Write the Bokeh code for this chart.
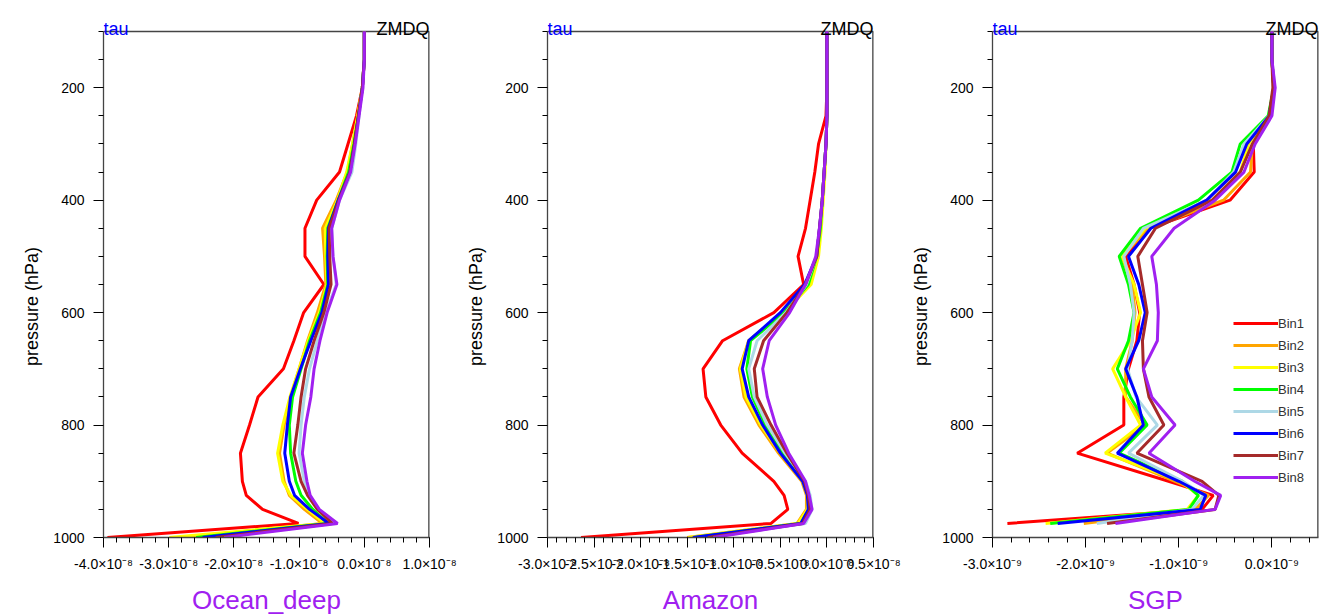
from bokeh.plotting import figure
from bokeh.models import Range1d, FixedTicker, Legend, LegendItem, CustomJSTickFormatter, LinearAxis
from bokeh.core.properties import value
from bokeh.layouts import row
from bokeh.embed import file_html
from bokeh.resources import INLINE

# ---------------- data ----------------
levels = [100, 150, 200, 250, 300, 350, 400, 450, 500, 550, 600, 650, 700,
          750, 800, 850, 900, 925, 950, 975, 1000]
bins = ["Bin1", "Bin2", "Bin3", "Bin4", "Bin5", "Bin6", "Bin7", "Bin8"]
colors = ["#FF0000", "#FFA500", "#FFFF00", "#00FF00", "#ADD8E6", "#0000FF", "#A52A2A", "#A020F0"]

# Ocean_deep, values in units of 1e-8
ocean_b1 = [0, 0, -0.03, -0.12, -0.25, -0.38, -0.73, -0.91, -0.91, -0.62, -0.93, -1.08, -1.24, -1.63, -1.76, -1.90, -1.87, -1.81, -1.56, -1.01, -3.94]
ocean_b2 = [0, 0, -0.03, -0.10, -0.18, -0.26, -0.43, -0.64, -0.61, -0.59, -0.72, -0.87, -1.00, -1.13, -1.23, -1.30, -1.23, -1.15, -0.92, -0.64, -2.76]
ocean_b3 = [0, 0, -0.03, -0.10, -0.18, -0.27, -0.41, -0.60, -0.59, -0.57, -0.69, -0.86, -1.00, -1.14, -1.25, -1.33, -1.25, -1.13, -0.87, -0.61, -2.99]
ocean_b4 = [0, 0, -0.03, -0.09, -0.16, -0.24, -0.40, -0.56, -0.57, -0.56, -0.67, -0.84, -0.97, -1.10, -1.15, -1.13, -1.05, -0.97, -0.79, -0.56, -2.58]
ocean_b5 = [0, 0, -0.03, -0.08, -0.13, -0.19, -0.38, -0.50, -0.48, -0.43, -0.59, -0.72, -0.84, -0.92, -0.97, -1.00, -0.92, -0.84, -0.71, -0.47, -2.35]
ocean_b6 = [0, 0, -0.03, -0.09, -0.15, -0.22, -0.40, -0.55, -0.56, -0.55, -0.65, -0.82, -0.98, -1.13, -1.18, -1.22, -1.15, -1.07, -0.84, -0.54, -2.48]
ocean_b7 = [0, 0, -0.03, -0.09, -0.15, -0.22, -0.39, -0.54, -0.53, -0.51, -0.62, -0.77, -0.90, -0.97, -1.02, -1.08, -0.97, -0.87, -0.72, -0.49, -2.28]
ocean_b8 = [0, 0, -0.02, -0.08, -0.14, -0.21, -0.38, -0.50, -0.48, -0.42, -0.57, -0.68, -0.77, -0.82, -0.90, -0.95, -0.88, -0.83, -0.69, -0.41, -2.15]

# Amazon, values in units of 1e-8
amazon_b1 = [0, 0, 0, -0.01, -0.09, -0.13, -0.18, -0.23, -0.31, -0.25, -0.57, -1.12, -1.33, -1.30, -1.14, -0.91, -0.57, -0.46, -0.42, -0.60, -2.64]
amazon_b2 = [0, 0, 0, 0, -0.01, -0.03, -0.05, -0.07, -0.10, -0.18, -0.47, -0.84, -0.94, -0.89, -0.73, -0.52, -0.27, -0.22, -0.22, -0.32, -1.50]
amazon_b3 = [0, 0, 0, 0, -0.01, -0.02, -0.04, -0.06, -0.09, -0.17, -0.46, -0.84, -0.93, -0.87, -0.71, -0.50, -0.26, -0.21, -0.21, -0.31, -1.49]
amazon_b4 = [0, 0, 0, 0, -0.01, -0.03, -0.05, -0.07, -0.11, -0.20, -0.46, -0.82, -0.86, -0.80, -0.66, -0.47, -0.25, -0.20, -0.19, -0.28, -1.43]
amazon_b5 = [0, 0, 0, 0, -0.01, -0.03, -0.05, -0.08, -0.11, -0.22, -0.44, -0.75, -0.84, -0.78, -0.64, -0.45, -0.23, -0.18, -0.16, -0.23, -1.35]
amazon_b6 = [0, 0, 0, 0, -0.01, -0.03, -0.05, -0.08, -0.11, -0.24, -0.50, -0.84, -0.91, -0.84, -0.69, -0.50, -0.26, -0.21, -0.20, -0.28, -1.44]
amazon_b7 = [0, 0, 0, 0, -0.01, -0.03, -0.05, -0.08, -0.11, -0.23, -0.43, -0.68, -0.78, -0.75, -0.60, -0.43, -0.24, -0.20, -0.18, -0.26, -1.28]
amazon_b8 = [0, 0, 0, 0, -0.01, -0.03, -0.05, -0.08, -0.12, -0.23, -0.40, -0.62, -0.69, -0.64, -0.55, -0.41, -0.23, -0.19, -0.16, -0.25, -1.22]

# SGP, values in units of 1e-9 (no value at 1000 hPa)
nan = float("nan")
sgp_b1 = [0, 0, 0.02, -0.03, -0.20, -0.19, -0.45, -1.32, -1.57, -1.48, -1.42, -1.45, -1.54, -1.59, -1.59, -2.09, -1.11, -0.63, -0.75, -2.84, nan]
sgp_b2 = [0, 0, 0.02, -0.03, -0.21, -0.23, -0.52, -1.32, -1.61, -1.50, -1.47, -1.50, -1.57, -1.57, -1.36, -1.77, -1.04, -0.68, -0.82, -2.02, nan]
sgp_b3 = [0, 0, 0.02, -0.03, -0.25, -0.34, -0.64, -1.36, -1.61, -1.48, -1.41, -1.52, -1.71, -1.57, -1.41, -1.79, -0.98, -0.79, -0.91, -2.43, nan]
sgp_b4 = [0, 0, 0.02, -0.04, -0.34, -0.43, -0.79, -1.41, -1.64, -1.54, -1.48, -1.54, -1.66, -1.52, -1.34, -1.64, -0.96, -0.79, -0.89, -2.38, nan]
sgp_b5 = [0, 0, 0.03, -0.03, -0.30, -0.41, -0.70, -1.38, -1.59, -1.52, -1.48, -1.50, -1.55, -1.46, -1.23, -1.54, -0.96, -0.73, -0.86, -1.88, nan]
sgp_b6 = [0, 0, 0.02, -0.03, -0.27, -0.39, -0.70, -1.30, -1.54, -1.43, -1.36, -1.43, -1.57, -1.45, -1.38, -1.66, -1.00, -0.71, -0.77, -2.30, nan]
sgp_b7 = [0, 0, 0.01, -0.03, -0.21, -0.34, -0.64, -1.25, -1.44, -1.39, -1.34, -1.39, -1.38, -1.32, -1.16, -1.45, -0.75, -0.57, -0.61, -1.77, nan]
sgp_b8 = [0, 0, 0.035, 0.0, -0.18, -0.30, -0.61, -1.05, -1.29, -1.24, -1.22, -1.23, -1.38, -1.29, -1.04, -1.32, -0.83, -0.55, -0.61, -1.68, nan]

# tick values (in plotted units) and labels
ocean_ticks = [-4.0, -3.0, -2.0, -1.0, 0.0, 1.0]
ocean_labels = ["-4.0×10⁻⁸", "-3.0×10⁻⁸", "-2.0×10⁻⁸", "-1.0×10⁻⁸", "0.0×10⁻⁸", "1.0×10⁻⁸"]
amazon_ticks = [-3.0, -2.5, -2.0, -1.5, -1.0, -0.5, 0.0, 0.5]
amazon_labels = ["-3.0×10⁻⁸", "-2.5×10⁻⁸", "-2.0×10⁻⁸", "-1.5×10⁻⁸", "-1.0×10⁻⁸", "-0.5×10⁻⁸", "0.0×10⁻⁸", "0.5×10⁻⁸"]
sgp_ticks = [-3.0, -2.0, -1.0, 0.0]
sgp_labels = ["-3.0×10⁻⁹", "-2.0×10⁻⁹", "-1.0×10⁻⁹", "0.0×10⁻⁹"]
y_major = [200, 400, 600, 800, 1000]
y_minor = [100, 150, 250, 300, 350, 450, 500, 550, 650, 700, 750, 850, 900, 950]
P_TOP, P_BOT = 100, 1000
y_title = "pressure (hPa)"

FONT = "Liberation Sans"
FONT_V = value(FONT)
PURPLE = "#A020F0"
FRAME_COLOR = "#444444"
FW, FH = 326, 506      # visible box size in px
EXT = 21               # extra px above the box (room for the corner texts)
NBSP_PAD = "\u00a0" * 13   # trailing pad so the rotated y title sits a little lower


def make_panel(title, series, xr, ticks, labels, minor_step, left, right, legend=False):
    top_val = P_TOP - EXT * (P_BOT - P_TOP) / FH
    p = figure(frame_width=FW, frame_height=FH + EXT,
               x_range=Range1d(*xr), y_range=Range1d(P_BOT, top_val),
               output_backend="svg", toolbar_location=None,
               min_border_left=left, min_border_right=right,
               min_border_top=31 - EXT, min_border_bottom=77)
    p.grid.visible = False
    p.outline_line_color = None
    p.background_fill_color = "white"
    p.border_fill_color = "white"

    # box: top and right edges (left/bottom are the axes); right edge sits on the frame edge
    p.segment(x0=[xr[0], xr[1]], y0=[P_TOP, P_TOP], x1=[xr[1], xr[1]], y1=[P_TOP, P_BOT],
              line_color=FRAME_COLOR, line_width=[1.3, 2.6])

    n = int(round((xr[1] - xr[0]) / minor_step))
    minors = [round(xr[0] + i * minor_step, 6) for i in range(n + 1)]
    xa = p.xaxis[0]
    xa.ticker = FixedTicker(ticks=ticks, minor_ticks=minors)
    xa.formatter = CustomJSTickFormatter(args=dict(tvals=ticks, tlabels=labels), code="""
        for (let i = 0; i < tvals.length; i++) {
            if (Math.abs(tvals[i] - tick) < 1e-6) return tlabels[i];
        }
        return '';
    """)
    ya = p.yaxis[0]
    ya.ticker = FixedTicker(ticks=y_major, minor_ticks=y_minor)
    ya.bounds = (P_TOP, P_BOT)
    for ax in (xa, ya):
        ax.axis_line_color = FRAME_COLOR
        ax.axis_line_width = 1.3
        ax.major_tick_line_color = "black"
        ax.minor_tick_line_color = "black"
        ax.major_tick_in = 0
        ax.major_tick_out = 10
        ax.minor_tick_in = 0
        ax.minor_tick_out = 5
        ax.major_label_text_font = FONT
        ax.major_label_text_color = "black"
    xa.major_label_text_font_size = "14px"
    xa.major_label_standoff = 8
    ya.major_label_text_font_size = "14px"
    ya.major_label_standoff = 9

    xa.axis_label = title
    xa.axis_label_text_font = FONT
    xa.axis_label_text_font_size = "26px"
    xa.axis_label_text_font_style = "normal"
    xa.axis_label_text_color = PURPLE
    xa.axis_label_standoff = 10

    # outer left axis carrying only the y title
    lab = LinearAxis(ticker=FixedTicker(ticks=[]),
                     axis_line_color=None, major_tick_out=0, minor_tick_out=0,
                     major_tick_in=0, minor_tick_in=0,
                     major_label_text_font_size="1px", major_label_standoff=0,
                     axis_label=y_title + NBSP_PAD, axis_label_standoff=9,
                     axis_label_text_font=FONT, axis_label_text_font_size="18px",
                     axis_label_text_font_style="normal", axis_label_text_color="black")
    p.add_layout(lab, "left")

    renderers = []
    for vals, col in zip(series, colors):
        r = p.line(vals, levels, line_color=col, line_width=3)
        renderers.append(r)

    # corner texts just above the box
    p.text(x=[xr[0]], y=[P_TOP], text=["tau"], text_font=FONT_V, text_font_size="18px",
           text_color="#0000FF", text_align="left", text_baseline="alphabetic", y_offset=-3)
    p.text(x=[xr[1]], y=[P_TOP], text=["ZMDQ"], text_font=FONT_V, text_font_size="18px",
           text_color="black", text_align="right", text_baseline="alphabetic", y_offset=-3)

    if legend:
        items = [LegendItem(label=b, renderers=[r]) for b, r in zip(bins, renderers)]
        lg = Legend(items=items, location=(241, 50), border_line_color=None,
                    background_fill_alpha=0, padding=0, margin=0, spacing=2,
                    glyph_width=45, glyph_height=20, label_height=20, label_standoff=0,
                    label_text_font=FONT, label_text_font_size="13px",
                    label_text_color="#333333")
        p.add_layout(lg)
    return p


p1 = make_panel("Ocean_deep",
                [ocean_b1, ocean_b2, ocean_b3, ocean_b4, ocean_b5, ocean_b6, ocean_b7, ocean_b8],
                (-4.0, 1.0), ocean_ticks, ocean_labels, 0.2, 103, 30)
p2 = make_panel("Amazon",
                [amazon_b1, amazon_b2, amazon_b3, amazon_b4, amazon_b5, amazon_b6, amazon_b7, amazon_b8],
                (-3.0, 0.5), amazon_ticks, amazon_labels, 0.1, 88, 30)
p3 = make_panel("SGP",
                [sgp_b1, sgp_b2, sgp_b3, sgp_b4, sgp_b5, sgp_b6, sgp_b7, sgp_b8],
                (-3.0, 0.5), sgp_ticks, sgp_labels, 0.2, 89, 4, legend=True)

layout = row(p1, p2, p3)
open("out.html", "w").write(file_html(layout, INLINE))
